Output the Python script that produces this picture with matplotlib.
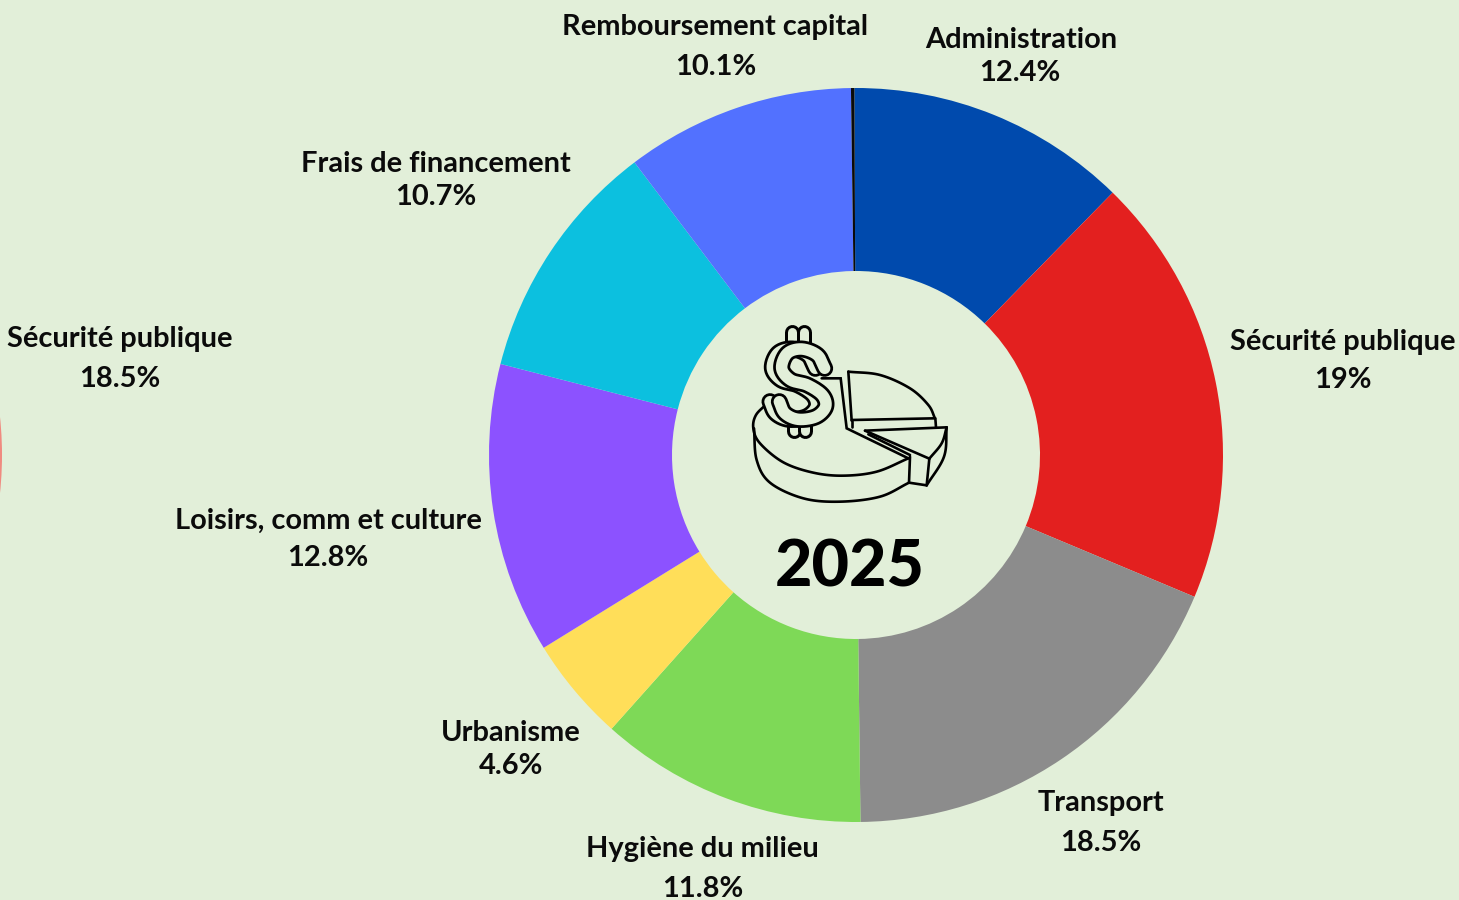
import numpy as np
import matplotlib
matplotlib.use("Agg")
import matplotlib.pyplot as plt

categories = ["Administration", "Sécurité publique", "Transport", "Hygiène du milieu",
              "Urbanisme", "Loisirs, comm et culture", "Frais de financement",
              "Remboursement capital"]
values = [12.4, 19, 18.5, 11.8, 4.6, 12.8, 10.7, 10.1]
sliver_value = [0.15]
colors = ["#004AAD", "#E3201F", "#8C8C8C", "#7ED957", "#FFDE59", "#8C52FF", "#0CC0DF", "#5271FF"]
sliver_color = ["#0A0A0A"]
center_label = "2025"

prev_label = "Sécurité publique"
prev_value = 18.5
prev_rest = 100 - prev_value

name_pos = [(1021, 38), (1343, 340), (1101, 801), (702, 847), (511, 731), (328, 519), (436, 162), (715, 25)]
value_pos = [(1020, 71), (1343, 378), (1101, 841), (703, 887), (511, 764), (328, 556), (436, 195), (716, 65)]

BG = "#E2EFD9"
W, H = 1459, 900
plt.rcParams["font.family"] = ["Lato", "DejaVu Sans"]
fig = plt.figure(figsize=(W / 100, H / 100), dpi=100, facecolor=BG)
ax = fig.add_axes([0, 0, 1, 1])

CX, CY, RO, RI = 856, H - 455, 367, 184
ax.pie(values + sliver_value, colors=colors + sliver_color, startangle=90.25, counterclock=False,
       center=(CX, CY), radius=RO, frame=True,
       wedgeprops=dict(width=RO - RI, linewidth=0))
# Neighbouring donut, almost entirely off canvas on the left
ax.pie([prev_value, prev_rest], colors=["#F08A80", "#8C8C8C"],
       startangle=prev_value * 1.8, counterclock=False,
       center=(-365, CY), radius=RO, frame=True,
       wedgeprops=dict(width=RO - RI, linewidth=0))
ax.set_xlim(0, W)
ax.set_ylim(0, H)
ax.set_aspect("equal")
ax.axis("off")

def Y(y):
    return H - y

FS = 20.9
TXT = dict(ha="center", va="center", fontsize=FS, fontweight="bold", color="#0B0B0B")
DY = 2
for n, v, np_, vp in zip(categories, values, name_pos, value_pos):
    ax.text(np_[0], Y(np_[1] + DY), n, **TXT)
    ax.text(vp[0], Y(vp[1] + DY), f"{v}%", **TXT)
ax.text(120, Y(337 + DY), prev_label, **TXT)
ax.text(120, Y(377 + DY), f"{prev_value}%", **TXT)
ax.text(850, Y(568), center_label, ha="center", va="center", fontsize=46.5, fontweight="black", color="black")

# ---- centre icon, traced in crop coordinates ----
def P(pts):
    a = np.asarray(pts, float)
    return np.c_[730 + a[:, 0] / 3, H - (300 + a[:, 1] / 3)]

def smooth(pts, n=14):
    p = P(pts)
    p = np.vstack([2 * p[0] - p[1], p, 2 * p[-1] - p[-2]])
    out = []
    for i in range(1, len(p) - 2):
        for t in np.linspace(0, 1, n, endpoint=False):
            out.append(0.5 * ((2 * p[i]) + (-p[i - 1] + p[i + 1]) * t
                              + (2 * p[i - 1] - 5 * p[i] + 4 * p[i + 1] - p[i + 2]) * t ** 2
                              + (-p[i - 1] + 3 * p[i] - 3 * p[i + 1] + p[i + 2]) * t ** 3))
    out.append(p[-2])
    return np.array(out)

LW = 1.9
def curve(pts, z=5):
    c = smooth(pts)
    ax.plot(c[:, 0], c[:, 1], color="black", lw=LW, solid_capstyle="round", zorder=z)

def line(pts, z=5):
    c = P(pts)
    ax.plot(c[:, 0], c[:, 1], color="black", lw=LW, solid_capstyle="round", solid_joinstyle="miter", zorder=z)

def tube(pts, dx, z, wide=17.0, narrow=11.5, curved=True):
    a = [(x + dx, y) for x, y in pts]
    c = smooth(a) if curved else P(a)
    ax.plot(c[:, 0], c[:, 1], color="black", lw=wide * 0.72, solid_capstyle="round", zorder=z)
    ax.plot(c[:, 0], c[:, 1], color=BG, lw=narrow * 0.72, solid_capstyle="round", zorder=z + 0.1)

# main pie body
curve([(112, 310), (78, 345), (70, 385), (90, 430), (160, 487), (250, 518), (340, 527), (440, 515), (535, 475)])
curve([(72, 385), (80, 480), (120, 548), (220, 595), (330, 605), (450, 590), (537, 548)])
line([(535, 475), (350, 385), (332, 235), (275, 235)])
line([(540, 470), (537, 548), (590, 556)])
# upper slice
line([(365, 362), (355, 215)])
curve([(355, 215), (450, 225), (540, 265), (595, 315), (615, 355)])
line([(365, 360), (612, 355)])
line([(365, 362), (365, 382)])
line([(616, 355), (618, 382)])
# front slice
line([(405, 392), (650, 382)])
line([(405, 392), (598, 476)])
curve([(650, 382), (635, 430), (598, 476)])
curve([(650, 382), (642, 470), (590, 556)])
line([(598, 476), (590, 556)])
line([(415, 403), (540, 465)])

# dollar sign: back copy then front copy
S = [(284, 205), (262, 165), (215, 147), (172, 160), (155, 205), (182, 240),
     (232, 255), (277, 285), (287, 320), (258, 350), (205, 358), (165, 340), (148, 305)]
tube([(186, 95), (186, 125)], 0, 6, curved=False, wide=15, narrow=9)
tube([(222, 95), (222, 125)], 0, 6.2, curved=False, wide=15, narrow=9)
tube([(193, 370), (193, 393)], 0, 6, curved=False, wide=15, narrow=9)
tube([(226, 370), (226, 393)], 0, 6.2, curved=False, wide=15, narrow=9)
tube(S, -28, 7)
tube(S, 0, 8)

fig.savefig("out.png", dpi=100, facecolor=BG)
